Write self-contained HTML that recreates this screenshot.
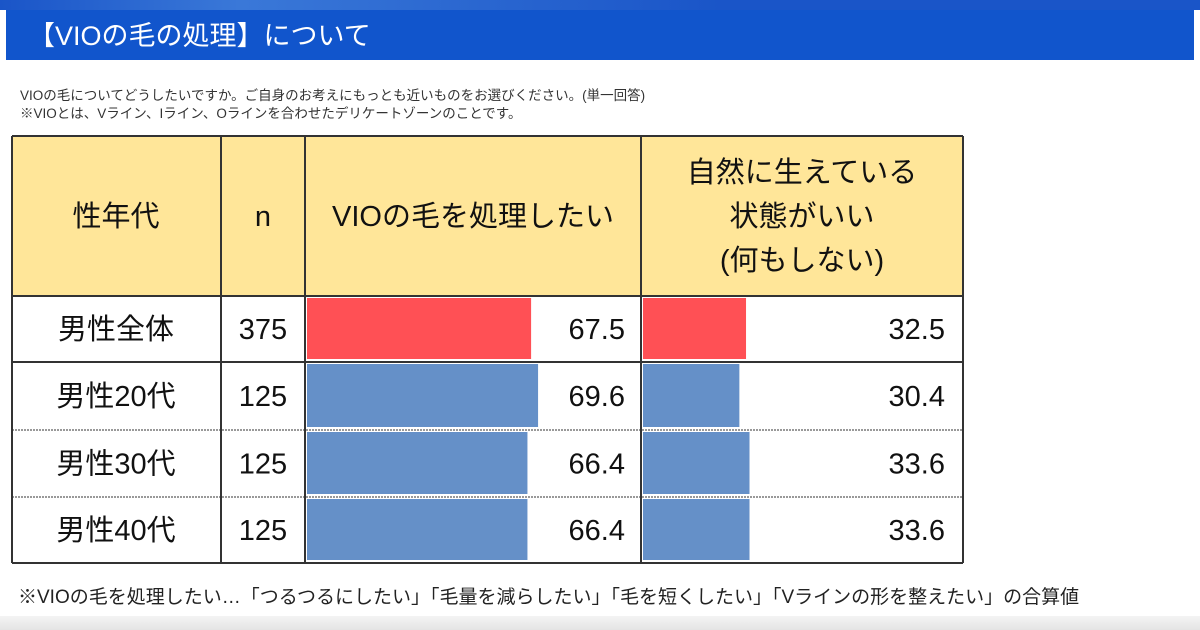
<!DOCTYPE html>
<html><head><meta charset="utf-8"><style>
body{margin:0;width:1200px;height:630px;background:#fff;overflow:hidden;font-family:"Liberation Sans","Noto Sans CJK JP",sans-serif;position:relative}
#topbar{position:absolute;left:0;top:0;width:1200px;height:10px;background:linear-gradient(90deg,#1a55c8,#3a78d8 20%,#1a55c8 60%,#1a55c8)}
#title{position:absolute;left:6px;top:10px;width:1188px;height:50px;background:#1155cc;color:#fff;font-size:27px;line-height:52px;padding-left:22px;box-sizing:border-box}
.note{position:absolute;left:20px;font-size:13.5px;color:#333}
svg{position:absolute;left:0;top:0}
#foot{position:absolute;left:18px;top:582px;font-size:19px;color:#222}
#shadow{position:absolute;left:0;top:616px;width:1200px;height:14px;background:linear-gradient(#f4f4f4,#e4e4e4)}
</style></head><body>
<div id="topbar"></div>
<div id="title">【VIOの毛の処理】について</div>
<div class="note" style="top:84px">VIOの毛についてどうしたいですか。ご自身のお考えにもっとも近いものをお選びください。(単一回答)</div>
<div class="note" style="top:102px">※VIOとは、Vライン、Iライン、Oラインを合わせたデリケートゾーンのことです。</div>
<svg id="chart" width="1200" height="630"></svg>
<div id="foot">※VIOの毛を処理したい…「つるつるにしたい」「毛量を減らしたい」「毛を短くしたい」「Vラインの形を整えたい」の合算値</div>
<div id="shadow"></div>
<script>
const categories=["男性全体","男性20代","男性30代","男性40代"];
const counts=[375,125,125,125];
const wantValues=[67.5,69.6,66.4,66.4];
const naturalValues=[32.5,30.4,33.6,33.6];
const NS="http://www.w3.org/2000/svg";
const svg=document.getElementById('chart');
function mk(tag,attrs,name,text){const e=document.createElementNS(NS,tag);for(const k in attrs)e.setAttribute(k,attrs[k]);


if(text!==undefined)e.textContent=text;svg.appendChild(e);return e;}
const L=12,R=963,T=136,H=296,B=563;
const cols=[12,221,305,641,963];
const rowY=[296,362,430,497,563];
const xWant=v=>v*3.32, xNat=v=>v*3.17;
mk('rect',{x:L,y:T,width:R-L,height:H-T,fill:'#ffe699'},'header-background');
mk('rect',{x:L,y:H,width:R-L,height:B-H,fill:'#fff'},'body-background');
const font='"Liberation Sans","Noto Sans CJK JP",sans-serif';
function txt(x,y,s,name,anchor){return mk('text',{x:x,y:y,'font-size':29,'font-family':font,fill:'#111','text-anchor':anchor||'middle'},name,s);}
txt(116,226,'性年代','header-segment');
txt(263,226,'n','header-n');
txt(473,226,'VIOの毛を処理したい','header-want');
txt(802,182,'自然に生えている','header-natural');
txt(802,226,'状態がいい','header-natural');
txt(802,270,'(何もしない)','header-natural');
categories.forEach((c,i)=>{
 const y0=rowY[i],y1=rowY[i+1],cy=(y0+y1)/2+10;
 const isAll=i===0,col=isAll?'#ff5055':'#6590c8';
 mk('rect',{x:cols[2]+2,y:y0+2,width:xWant(wantValues[i]),height:y1-y0-5,fill:col},'bar-want-'+i);
 mk('rect',{x:cols[3]+2,y:y0+2,width:xNat(naturalValues[i]),height:y1-y0-5,fill:col},'bar-natural-'+i);
 txt(116,cy,c,'row-label');
 txt(263,cy,String(counts[i]),'row-n');
 txt(625,cy,wantValues[i].toFixed(1),'value-want','end');
 txt(945,cy,naturalValues[i].toFixed(1),'value-natural','end');
});
// grid
rowY.forEach((y,i)=>{mk('line',{x1:L,x2:R,y1:y,y2:y,stroke:'#333','stroke-width':(i>=2&&i<=3)?1:2,'stroke-dasharray':(i>=2&&i<=3)?'2,1':'none'},'row-line');});
cols.forEach(x=>mk('line',{x1:x,x2:x,y1:T,y2:B,stroke:'#333','stroke-width':2},'col-line'));
mk('line',{x1:L,x2:R,y1:T,y2:T,stroke:'#333','stroke-width':2},'top-line');
</script>
</body></html>
